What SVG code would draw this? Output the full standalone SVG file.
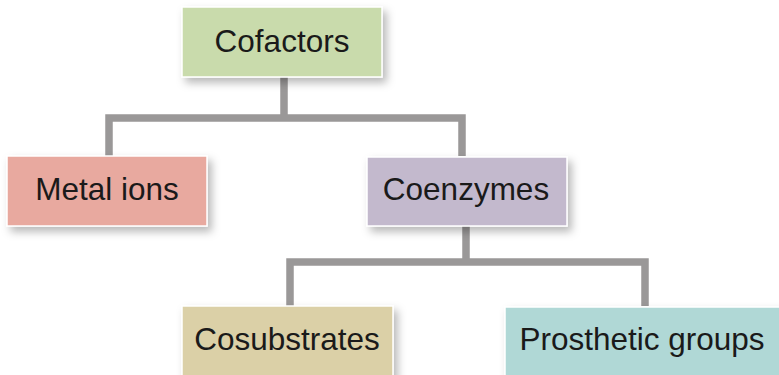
<svg xmlns="http://www.w3.org/2000/svg" width="779" height="375" viewBox="0 0 779 375">
<defs>
<filter id="sh" x="-20%" y="-30%" width="150%" height="180%">
<feDropShadow dx="4" dy="5" stdDeviation="4" flood-color="#000" flood-opacity="0.28"/>
</filter>
<style>
.box{stroke:#ffffff;stroke-width:1.5;filter:url(#sh)}
.lbl{font-family:"Liberation Sans",Arial,sans-serif;font-size:31.5px;fill:#1a1a1a;text-anchor:middle}
.con{fill:none;stroke:#9a9898;stroke-width:7.5;stroke-linejoin:miter;stroke-linecap:butt}
</style>
</defs>
<rect width="779" height="375" fill="#ffffff"/>
<g id="connectors">
<path class="con" d="M284,77 V118 M109,156 V118 H462 V156"/>
<path class="con" d="M466,226 V262 M290,306 V262 H645 V306"/>
</g>
<g id="cofactors">
<rect class="box" x="182" y="7" width="200" height="70" fill="#c9dbac"/>
<text class="lbl" x="282" y="52">Cofactors</text>
</g>
<g id="metal-ions">
<rect class="box" x="7" y="156" width="200" height="70" fill="#e8a99f"/>
<text class="lbl" x="107" y="200">Metal ions</text>
</g>
<g id="coenzymes">
<rect class="box" x="367" y="157" width="200" height="69" fill="#c3b9cd"/>
<text class="lbl" x="466" y="200">Coenzymes</text>
</g>
<g id="cosubstrates">
<rect class="box" x="182" y="306" width="211" height="75" fill="#dbd0a7"/>
<text class="lbl" x="287" y="350">Cosubstrates</text>
</g>
<g id="prosthetic-groups">
<rect class="box" x="505" y="307" width="280" height="75" fill="#b0d8d6"/>
<text class="lbl" x="642" y="350">Prosthetic groups</text>
</g>
</svg>
